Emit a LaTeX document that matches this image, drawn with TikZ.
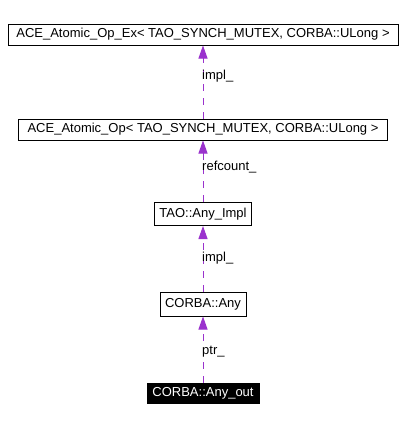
\documentclass[tikz,border=0pt]{standalone}
\usepackage{fontspec}
\setmainfont{Liberation Sans}
\usetikzlibrary{arrows.meta}
\definecolor{edgecol}{HTML}{9A32CD}
\begin{document}
\begin{tikzpicture}[x=1pt,y=-1pt,
  box/.style={draw=black,line width=1pt,fill=white,inner sep=0pt,font=\fontsize{13}{15}\selectfont},
  hbox/.style={draw=black,line width=1pt,fill=black,text=white,inner sep=0pt,font=\fontsize{13}{15}\selectfont},
  edge/.style={draw=edgecol,line width=1pt,dash pattern=on 7pt off 7pt,-{Triangle[length=13pt,width=9pt,fill=edgecol]}},
  lbl/.style={anchor=west,inner sep=0pt,font=\fontsize{13}{15}\selectfont}]
\useasboundingbox (0,0) rectangle (406,424);
\fill[white] (0,0) rectangle (406,424);
\node[box,minimum width=390pt,minimum height=21pt] (b1) at (203,34.5) {ACE\_Atomic\_Op\_Ex< TAO\_SYNCH\_MUTEX, CORBA::ULong >};
\node[box,minimum width=369pt,minimum height=21pt] (b2) at (203,129.5) {ACE\_Atomic\_Op< TAO\_SYNCH\_MUTEX, CORBA::ULong >};
\node[box,minimum width=97pt,minimum height=23pt] (b3) at (203,214) {TAO::Any\_Impl};
\node[box,minimum width=86pt,minimum height=24pt] (b4) at (203,304) {CORBA::Any};
\node[hbox,minimum width=112pt,minimum height=20pt] (b5) at (203,393) {CORBA::Any\_out};
\draw[edge] (b2.north) -- (b1.south);
\draw[edge] (b3.north) -- (b2.south);
\draw[edge] (b4.north) -- (b3.south);
\draw[edge] (b5.north) -- (b4.south);
\node[lbl] (l1) at (202,76) {impl\_};
\node[lbl] (l2) at (202,167) {refcount\_};
\node[lbl] (l3) at (202,258) {impl\_};
\node[lbl] (l4) at (202,352) {ptr\_};
\end{tikzpicture}
\end{document}
